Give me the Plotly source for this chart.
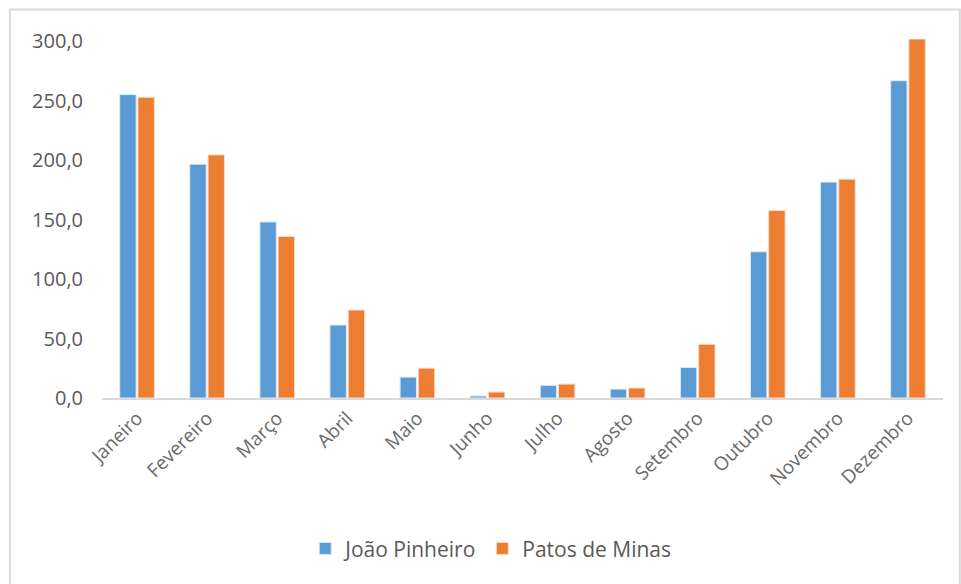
import plotly.graph_objects as go

meses = ["Janeiro", "Fevereiro", "Março", "Abril", "Maio", "Junho",
         "Julho", "Agosto", "Setembro", "Outubro", "Novembro", "Dezembro"]
joao_pinheiro = [255.2, 196.7, 148.1, 61.4, 17.6, 1.7, 10.6, 7.5, 25.7, 123.0, 181.6, 266.9]
patos_de_minas = [253.0, 204.5, 135.9, 74.0, 25.1, 5.0, 11.7, 8.4, 45.2, 157.7, 184.1, 302.0]
y_ticks = [0, 50, 100, 150, 200, 250, 300]
y_tick_text = ["0,0", "50,0", "100,0", "150,0", "200,0", "250,0", "300,0"]

FONT = "Open Sans"
GRAY = "#595959"

fig = go.Figure()
fig.add_trace(go.Bar(x=meses, y=joao_pinheiro, name="João Pinheiro",
                     marker=dict(color="#5B9BD5", line=dict(color="#dfe8f2", width=1))))
fig.add_trace(go.Bar(x=meses, y=patos_de_minas, name="Patos de Minas",
                     marker=dict(color="#ED7D31", line=dict(color="#f6dccb", width=1))))

fig.update_layout(
    width=961, height=584,
    margin=dict(l=102, r=18, t=39, b=186),
    paper_bgcolor="white", plot_bgcolor="white",
    barmode="group", bargap=0.48, bargroupgap=0.1,
    font=dict(family=FONT, color=GRAY, size=20),
    showlegend=True,
    legend=dict(orientation="h", x=(305 - 102) / 840, xanchor="left", y=-0.42, yanchor="middle",
                font=dict(family=FONT, size=21, color=GRAY), itemwidth=30,
                traceorder="normal"),
    xaxis=dict(tickangle=-45, showline=True, linecolor="#d9d9d9", linewidth=1.5,
               ticks="", showgrid=False, tickfont=dict(size=19, color="#6a6a6a")),
    yaxis=dict(range=[0, 302], tickvals=y_ticks, ticktext=y_tick_text, showgrid=False,
               zeroline=False, showline=False, ticks="", ticklabelstandoff=18,
               tickfont=dict(size=20, color=GRAY)),
    shapes=[dict(type="rect", xref="paper", yref="paper",
                 x0=-0.1095, x1=1.02, y0=-0.6, y1=1.082,
                 line=dict(color="#d9d9d9", width=2), fillcolor="rgba(0,0,0,0)", layer="below")],
)

fig.write_html("out.html")
